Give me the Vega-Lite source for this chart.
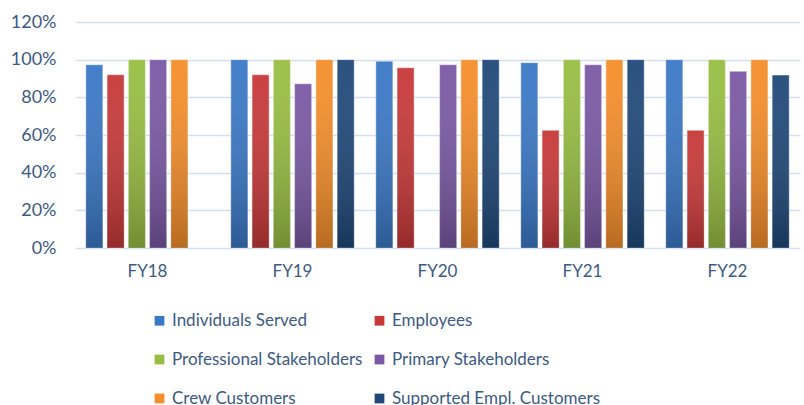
{
  "$schema": "https://vega.github.io/schema/vega-lite/v6.json",
  "width": 725,
  "height": 226,
  "autosize": {"type": "none"},
  "padding": {"left": 75, "top": 22, "right": 4, "bottom": 157},
  "background": "white",
  "config": {
    "font": "Lato",
    "view": {"stroke": null},
    "axis": {"labelColor": "#3D5A82", "labelFont": "Lato", "labelFontSize": 17, "domain": false, "ticks": false, "gridColor": "#D3DFEF", "gridWidth": 1.5},
    "legend": {"labelColor": "#3D5A82", "labelFont": "Lato", "labelFontSize": 17, "labelLimit": 0}
  },
  "data": {
    "values": [
      {"year": "FY18", "series": "Individuals Served", "value": 0.973},
      {"year": "FY18", "series": "Employees", "value": 0.92},
      {"year": "FY18", "series": "Professional Stakeholders", "value": 1.0},
      {"year": "FY18", "series": "Primary Stakeholders", "value": 1.0},
      {"year": "FY18", "series": "Crew Customers", "value": 1.0},
      {"year": "FY19", "series": "Individuals Served", "value": 1.0},
      {"year": "FY19", "series": "Employees", "value": 0.92},
      {"year": "FY19", "series": "Professional Stakeholders", "value": 1.0},
      {"year": "FY19", "series": "Primary Stakeholders", "value": 0.872},
      {"year": "FY19", "series": "Crew Customers", "value": 1.0},
      {"year": "FY19", "series": "Supported Empl. Customers", "value": 1.0},
      {"year": "FY20", "series": "Individuals Served", "value": 0.992},
      {"year": "FY20", "series": "Employees", "value": 0.957},
      {"year": "FY20", "series": "Primary Stakeholders", "value": 0.973},
      {"year": "FY20", "series": "Crew Customers", "value": 1.0},
      {"year": "FY20", "series": "Supported Empl. Customers", "value": 1.0},
      {"year": "FY21", "series": "Individuals Served", "value": 0.984},
      {"year": "FY21", "series": "Employees", "value": 0.625},
      {"year": "FY21", "series": "Professional Stakeholders", "value": 1.0},
      {"year": "FY21", "series": "Primary Stakeholders", "value": 0.973},
      {"year": "FY21", "series": "Crew Customers", "value": 1.0},
      {"year": "FY21", "series": "Supported Empl. Customers", "value": 1.0},
      {"year": "FY22", "series": "Individuals Served", "value": 1.0},
      {"year": "FY22", "series": "Employees", "value": 0.625},
      {"year": "FY22", "series": "Professional Stakeholders", "value": 1.0},
      {"year": "FY22", "series": "Primary Stakeholders", "value": 0.938},
      {"year": "FY22", "series": "Crew Customers", "value": 1.0},
      {"year": "FY22", "series": "Supported Empl. Customers", "value": 0.918}
    ]
  },
  "encoding": {
    "x": {
      "field": "year", "type": "nominal", "sort": null,
      "scale": {"paddingInner": 0.12, "paddingOuter": 0.06},
      "axis": {"title": null, "labelAngle": 0, "labelPadding": 15, "grid": false}
    },
    "xOffset": {
      "field": "series", "type": "nominal",
      "sort": ["Individuals Served", "Employees", "Professional Stakeholders", "Primary Stakeholders", "Crew Customers", "Supported Empl. Customers"],
      "scale": {"paddingInner": 0.2, "paddingOuter": 0.1}
    },
    "y": {
      "field": "value", "type": "quantitative",
      "scale": {"domain": [0, 1.2], "nice": false},
      "axis": {"title": null, "format": ".0%", "values": [0, 0.2, 0.4, 0.6, 0.8, 1.0, 1.2], "labelPadding": 19, "labelFontSize": 18}
    }
  },
  "layer": [
    {
      "mark": {"type": "bar", "stroke": "white", "strokeWidth": 0.6, "strokeOpacity": 0.7},
      "encoding": {
        "color": {
          "field": "series", "type": "nominal",
          "sort": ["Individuals Served", "Employees", "Professional Stakeholders", "Primary Stakeholders", "Crew Customers", "Supported Empl. Customers"],
          "scale": {"range": ["#3A78C6", "#C73838", "#97BE42", "#7A58A4", "#F58E2A", "#1F4879"]},
          "legend": {
            "title": null, "orient": "none", "legendX": 76, "legendY": 290,
            "direction": "horizontal", "columns": 2, "symbolType": "square", "symbolSize": 95,
            "symbolStrokeWidth": 0, "rowPadding": 21, "columnPadding": 8, "labelOffset": 4, "symbolOpacity": 1
          }
        }
      }
    },
    {
      "mark": {
        "type": "bar",
        "fill": {"gradient": "linear", "x1": 0, "y1": 0, "x2": 0, "y2": 1, "stops": [{"offset": 0, "color": "rgba(255,255,255,0.05)"}, {"offset": 1, "color": "rgba(0,0,0,0.25)"}]}
      },
      "encoding": {}
    }
  ]
}
